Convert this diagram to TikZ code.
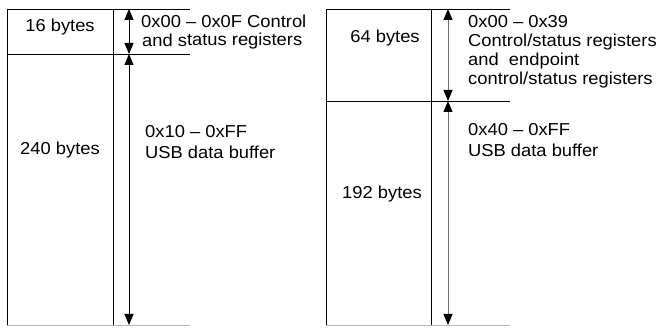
\documentclass[tikz,border=0pt]{standalone}
\usepackage{fontspec}
\setmainfont{Liberation Sans}[FakeStretch=1.06]
\usetikzlibrary{arrows.meta}
\definecolor{shaftgray}{RGB}{110,110,110}
\definecolor{basegray}{RGB}{180,180,180}
\tikzset{
  boxline/.style={draw=black, line width=0.9pt},
  baseline/.style={draw=basegray, line width=0.9pt},
  span/.style={line width=0.9pt, {Triangle[width=9pt,length=11pt,color=black]}-{Triangle[width=9pt,length=11pt,color=black]}},
  lbl/.style={inner sep=0pt, anchor=base west, font=\fontsize{17.3}{20}\selectfont},
  clbl/.style={inner sep=0pt, anchor=base, font=\fontsize{17.3}{20}\selectfont},
}
\begin{document}
\begin{tikzpicture}[x=1pt,y=-1pt]
\useasboundingbox (0,0) rectangle (662,328);
% left map
\coordinate (LTL) at (7,9);   \coordinate (LTR) at (190,9);
\coordinate (LML) at (7,54);  \coordinate (LMR) at (190,54);
\coordinate (LBL) at (7,325); \coordinate (LBR) at (190,325);
\coordinate (LIT) at (113,9); \coordinate (LIB) at (113,325);
\coordinate (LA1) at (129,9); \coordinate (LA2) at (129,54); \coordinate (LA3) at (129,325);
\draw[boxline] (LTL) -- (LTR);
\draw[boxline] (LML) -- (LMR);
\draw[baseline] (LBL) -- (LBR);
\draw[boxline] (LTL) -- (LBL);
\draw[boxline] (LIT) -- (LIB);
\draw[span, black] (LA1) -- (LA2);
\draw[span, black] (LA2) -- (LA3);
\node[clbl] (l16) at (60,32) {16 bytes};
\node[clbl] (l240) at (60,155) {240 bytes};
\node[lbl] (lr1) at (141,28) {0x00 – 0x0F Control};
\node[lbl] (lr2) at (142,47) {and s\raisebox{1.5pt}{tatus registers}};
\node[lbl] (lb1) at (145,138) {0x10 – 0xFF};
\node[lbl] (lb2) at (145,159) {USB data buffer};
% right map
\coordinate (RTL) at (326,9);   \coordinate (RTR) at (510,9);
\coordinate (RML) at (326,101); \coordinate (RMR) at (510,101);
\coordinate (RBL) at (326,325); \coordinate (RBR) at (510,325);
\coordinate (RIT) at (431,9);   \coordinate (RIB) at (431,325);
\coordinate (RA1) at (448,9); \coordinate (RA2) at (448,101); \coordinate (RA3) at (448,325);
\draw[boxline] (RTL) -- (RTR);
\draw[boxline] (RML) -- (RMR);
\draw[baseline] (RBL) -- (RBR);
\draw[boxline] (RTL) -- (RBL);
\draw[boxline] (RIT) -- (RIB);
\draw[span, draw=shaftgray] (RA1) -- (RA2);
\draw[span, draw=shaftgray] (RA2) -- (RA3);
\node[clbl] (r64) at (385,43) {64 bytes};
\node[clbl] (r192) at (382,199) {192 bytes};
\node[lbl] (rr1) at (468,28) {0x00 – 0x39};
\node[lbl] (rr2) at (468,47) {Control/status registers};
\node[lbl] (rr3) at (468,66) {and\ \ endpoint};
\node[lbl] (rr4) at (468,85) {control/status registers};
\node[lbl] (rb1) at (468,136) {0x40 – 0xFF};
\node[lbl] (rb2) at (468,157) {USB data buffer};
\end{tikzpicture}
\end{document}
